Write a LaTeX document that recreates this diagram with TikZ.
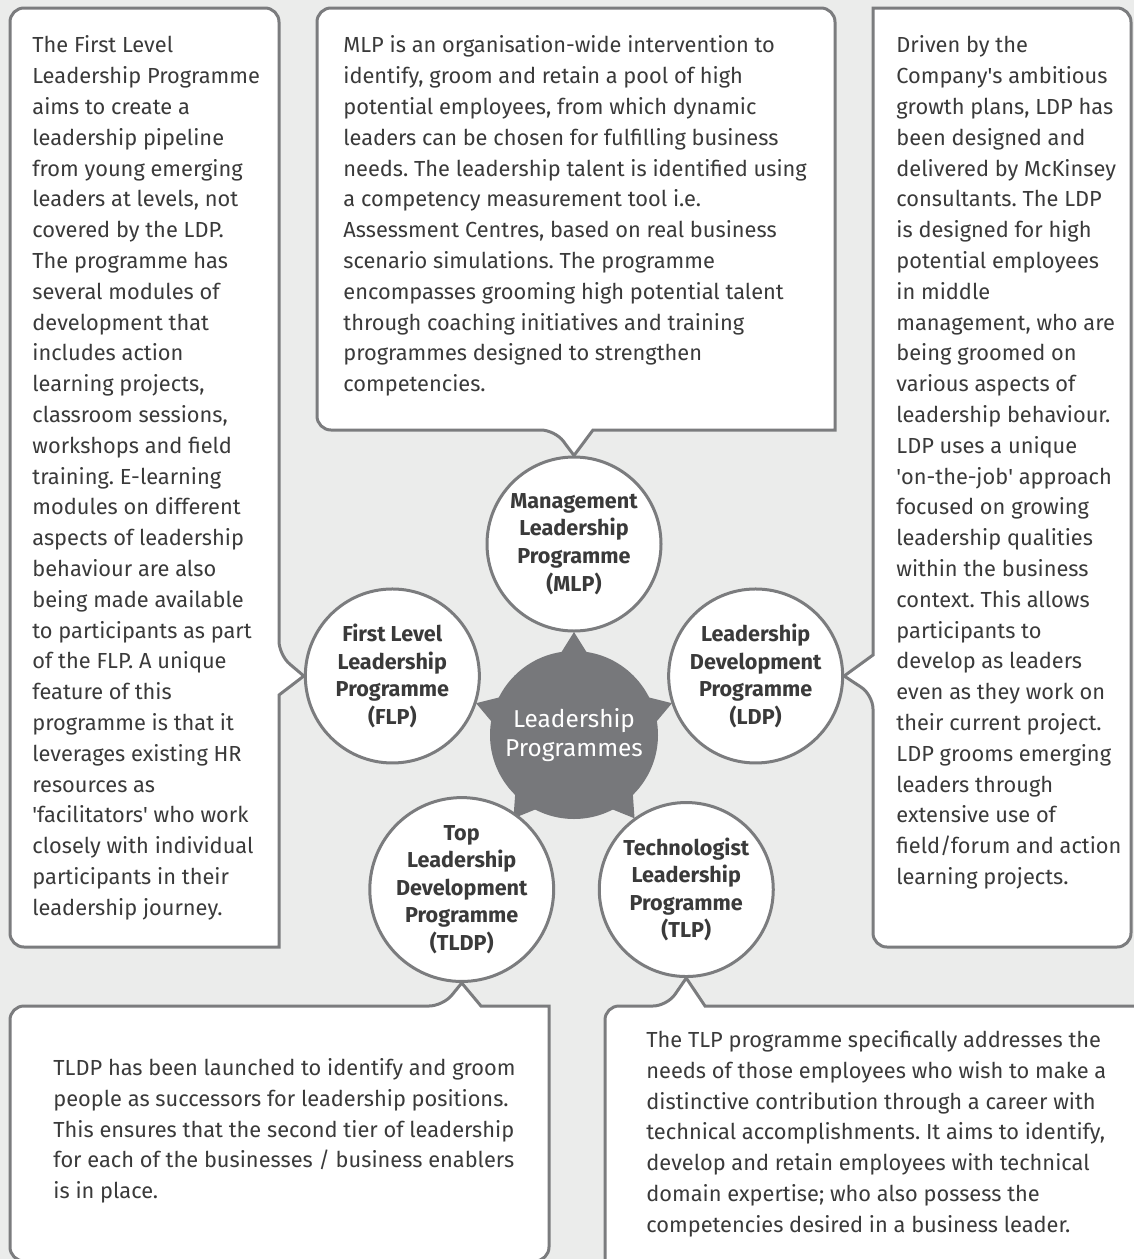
\documentclass[tikz,border=0pt]{standalone}
\usepackage{fontspec}
\setmainfont{Fira Sans}
\usetikzlibrary{calc, backgrounds}

\definecolor{bggray}{HTML}{EBECEB}
\definecolor{linegray}{HTML}{7B7C7E}
\definecolor{hubgray}{HTML}{77787B}
\definecolor{textgray}{HTML}{3A3A3A}

\tikzset{
    callout/.style={draw=linegray, line width=1.5pt, fill=white, line join=miter},
    bodytext/.style={anchor=north west, inner sep=0pt, align=left, text=textgray,
        font=\fontsize{10.9}{15.4}\selectfont, execute at begin node=\strut},
    prog/.style={circle, draw=linegray, line width=1.5pt, fill=white, minimum size=87pt,
        inner sep=0pt, align=center, text=textgray, font=\bfseries\fontsize{10.8}{13.8}\selectfont},
    hubnode/.style={circle, fill=hubgray, minimum size=84pt, inner sep=0pt, align=center,
        text=white, font=\fontsize{12.2}{14.2}\selectfont}
}
\newcommand{\sq}{\textquotesingle}
\frenchspacing

\begin{document}
\begin{tikzpicture}[x=0.5pt, y=0.5pt]
        \clip (0,0) rectangle (1134,-1259);

        % hub with the five programmes round it
        \node[hubnode] (hub) at (574,-735) {Leadership\\Programmes};
        \foreach \a in {90,162,18,234,306} {
            \fill[hubgray] ($(hub)+(\a:103)$) -- ($(hub)+(\a+11:80)$) -- ($(hub)+(\a-11:80)$) -- cycle;
        }
        \node[prog] (mlp) at ($(hub)+(90:191)$) {Management\\Leadership\\Programme\\(MLP)};
        \node[prog] (flp) at ($(hub)+(162:191)$) {First Level\\Leadership\\Programme\\(FLP)};
        \node[prog] (ldp) at ($(hub)+(18:191)$) {Leadership\\Development\\Programme\\(LDP)};
        \node[prog] (tldp) at ($(hub)+(234:191)$) {Top\\Leadership\\Development\\Programme\\(TLDP)};
        \node[prog] (tlp) at ($(hub)+(306:191)$) {Technologist\\Leadership\\Programme\\(TLP)};

        % callout boxes, tails ending on the circles
        \begin{scope}[on background layer]
            \fill[bggray] (0,0) rectangle (1134,-1259);
            % FLP (left)
            \draw[callout] (flp.west) -- (279,-695) -- (279,-947) [rounded corners=7pt] -- (10,-947)
                -- (10,-8) -- (279,-8) -- (279,-655) [sharp corners] -- cycle;
            % MLP (top)
            \draw[callout] (mlp.north) -- (593,-430) -- (835,-430) [rounded corners=7pt] -- (835,-8)
                -- (317,-8) -- (317,-430) -- (555,-430) [sharp corners] -- cycle;
            % LDP (right)
            \draw[callout] (ldp.east) -- (873,-655) -- (873,-8) [rounded corners=7pt] -- (1131,-8)
                -- (1131,-947) -- (873,-947) -- (873,-695) [sharp corners] -- cycle;
            % TLDP (bottom left)
            \draw[callout] (tldp.south) -- (481,-1006) -- (549,-1006) [rounded corners=7pt] -- (549,-1261)
                -- (10,-1261) -- (10,-1006) -- (443,-1006) [sharp corners] -- cycle;
            % TLP (bottom right)
            \draw[callout] (tlp.south) -- (705,-1006) -- (1150,-1006) [rounded corners=7pt] -- (1150,-1280)
                -- (605,-1280) -- (605,-1006) -- (667,-1006) [sharp corners] -- cycle;
        \end{scope}

        \node[bodytext] (flptext) at (32,-35.5) {The First Level\\Leadership Programme\\aims to create a\\leadership pipeline\\from young emerging\\leaders at levels, not\\covered by the LDP.\\The programme has\\several modules of\\development that\\includes action\\learning projects,\\classroom sessions,\\workshops and field\\training. E-learning\\modules on different\\aspects of leadership\\behaviour are also\\being made available\\to participants as part\\of the FLP. A unique\\feature of this\\programme is that it\\leverages existing HR\\resources as\\\sq facilitators\sq\ who work\\closely with individual\\participants in their\\leadership journey.};

        \node[bodytext] (mlptext) at (343,-35.5) {MLP is an organisation-wide intervention to\\identify, groom and retain a pool of high\\potential employees, from which dynamic\\leaders can be chosen for fulfilling business\\needs. The leadership talent is identified using\\a competency measurement tool i.e.\\Assessment Centres, based on real business\\scenario simulations. The programme\\encompasses grooming high potential talent\\through coaching initiatives and training\\programmes designed to strengthen\\competencies.};

        \node[bodytext] (ldptext) at (896,-35.5) {Driven by the\\Company\sq s ambitious\\growth plans, LDP has\\been designed and\\delivered by McKinsey\\consultants. The LDP\\is designed for high\\potential employees\\in middle\\management, who are\\being groomed on\\various aspects of\\leadership behaviour.\\LDP uses a unique\\\sq on-the-job\sq\ approach\\focused on growing\\leadership qualities\\within the business\\context. This allows\\participants to\\develop as leaders\\even as they work on\\their current project.\\LDP grooms emerging\\leaders through\\extensive use of\\field/forum and action\\learning projects.};

        \node[bodytext] (tldptext) at (53,-1058) {TLDP has been launched to identify and groom\\people as successors for leadership positions.\\This ensures that the second tier of leadership\\for each of the businesses / business enablers\\is in place.};

        \node[bodytext] (tlptext) at (646,-1030) {The TLP programme specifically addresses the\\needs of those employees who wish to make a\\distinctive contribution through a career with\\technical accomplishments. It aims to identify,\\develop and retain employees with technical\\domain expertise; who also possess the\\competencies desired in a business leader.};
\end{tikzpicture}
\end{document}
